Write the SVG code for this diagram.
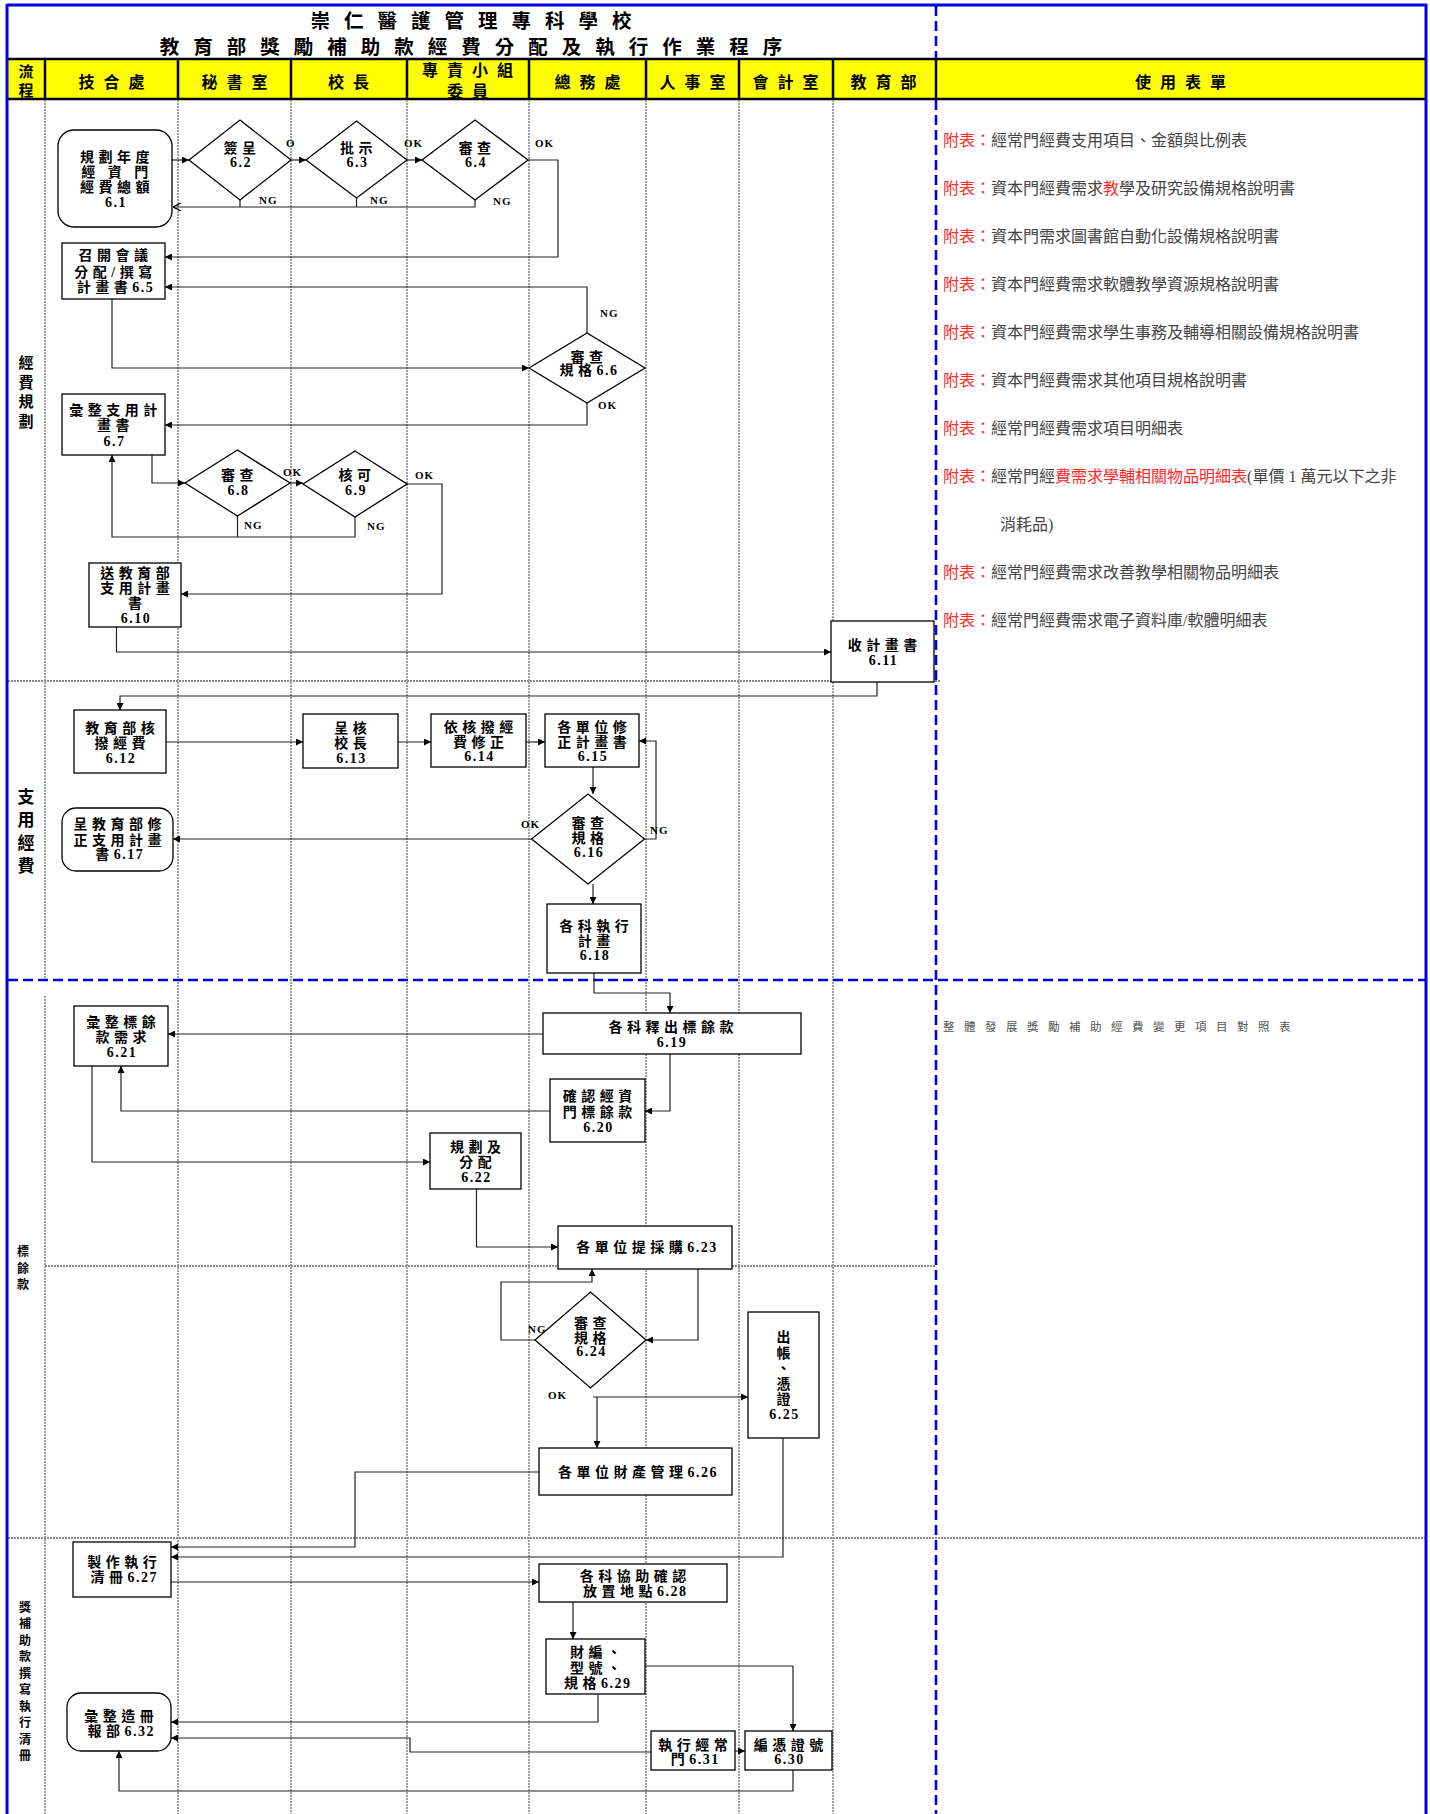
<svg xmlns="http://www.w3.org/2000/svg" width="1430" height="1814" viewBox="0 0 1430 1814">
<defs>
<marker id="ar" viewBox="0 0 10 10" refX="10" refY="5" markerWidth="8" markerHeight="7" orient="auto" markerUnits="userSpaceOnUse"><path d="M0,0L10,5L0,10z" fill="#000"/></marker>
<marker id="ao" viewBox="0 0 10 10" refX="10" refY="5" markerWidth="9" markerHeight="8" orient="auto" markerUnits="userSpaceOnUse"><path d="M0,0L10,5L0,10" fill="none" stroke="#000" stroke-width="1.6"/></marker>
</defs>
<style>
.lane{stroke:#8a8a8a;stroke-width:1.6;stroke-dasharray:2 1;fill:none}
.sec{stroke:#8a8a8a;stroke-width:1.8;stroke-dasharray:2 1;fill:none}
.bl{stroke:#0000e0;stroke-width:3;fill:none}
.bd{stroke:#0000e0;stroke-width:2.6;stroke-dasharray:10 5;fill:none}
.hb{stroke:#000;stroke-width:2.5}
.ttl{font-family:'Noto Sans CJK TC',sans-serif;font-weight:bold;font-size:19.5px;letter-spacing:14px;text-anchor:middle;fill:#000}
.h{font-family:'Noto Sans CJK TC',sans-serif;font-weight:bold;font-size:16px;letter-spacing:9px;text-anchor:middle;fill:#000}
.box{fill:#fff;stroke:#000;stroke-width:1.3}
.t{font-family:'Liberation Serif','Noto Sans CJK TC',serif;font-weight:bold;font-size:14px;letter-spacing:4.5px;text-anchor:middle;fill:#000}
.d{letter-spacing:1.5px}
.c path{fill:none;stroke:#222;stroke-width:1.2}
.lb{font-family:'Liberation Serif',serif;font-weight:bold;font-size:11px;letter-spacing:1px;fill:#000}
.s{font-family:'Noto Sans CJK TC',sans-serif;font-weight:bold;text-anchor:middle;fill:#000}
.r{font-family:'Liberation Serif','Noto Sans CJK TC',serif;font-size:16px;fill:#444}
.red{fill:#ff2a2a}
.sm{font-family:'Noto Sans CJK TC',sans-serif;font-size:11.5px;letter-spacing:9.5px;fill:#555}
</style>
<rect x="0" y="0" width="1430" height="1814" fill="#fff"/>

<g id="header">
<rect x="8" y="59" width="1418" height="40" fill="#ffff00"/>
<line class="hb" x1="7" y1="59" x2="1427" y2="59"/>
<line class="hb" x1="7" y1="99" x2="1427" y2="99"/>
<line class="hb" x1="45" y1="59" x2="45" y2="99"/>
<line class="hb" x1="178" y1="59" x2="178" y2="99"/>
<line class="hb" x1="291" y1="59" x2="291" y2="99"/>
<line class="hb" x1="407" y1="59" x2="407" y2="99"/>
<line class="hb" x1="529" y1="59" x2="529" y2="99"/>
<line class="hb" x1="646" y1="59" x2="646" y2="99"/>
<line class="hb" x1="739" y1="59" x2="739" y2="99"/>
<line class="hb" x1="833" y1="59" x2="833" y2="99"/>
<line class="hb" x1="936" y1="59" x2="936" y2="99"/>
<text class="s" x="26" y="77" font-size="15">流</text>
<text class="s" x="26" y="96" font-size="15">程</text>
<text class="h" x="116" y="88">技合處</text>
<text class="h" x="239" y="88">秘書室</text>
<text class="h" x="353" y="88">校長</text>
<text class="h" x="472" y="76" font-size="13.5" letter-spacing="10">專責小組</text>
<text class="h" x="472" y="97" font-size="13.5" letter-spacing="10">委員</text>
<text class="h" x="592" y="88">總務處</text>
<text class="h" x="697" y="88">人事室</text>
<text class="h" x="790" y="88">會計室</text>
<text class="h" x="888" y="88">教育部</text>
<text class="h" x="1185" y="88">使用表單</text>
<text class="ttl" x="478" y="28">崇仁醫護管理專科學校</text>
<text class="ttl" x="478" y="54">教育部獎勵補助款經費分配及執行作業程序</text>
</g>

<g id="lanes">
<line class="lane" x1="45" y1="100" x2="45" y2="980"/>
<line class="lane" x1="45" y1="996" x2="45" y2="1814"/>
<line class="lane" x1="178" y1="100" x2="178" y2="1814"/>
<line class="lane" x1="291" y1="100" x2="291" y2="1814"/>
<line class="lane" x1="407" y1="100" x2="407" y2="1814"/>
<line class="lane" x1="529" y1="100" x2="529" y2="1814"/>
<line class="lane" x1="646" y1="100" x2="646" y2="1814"/>
<line class="lane" x1="739" y1="100" x2="739" y2="1814"/>
<line class="lane" x1="833" y1="100" x2="833" y2="1814"/>
<line class="sec" x1="8" y1="681" x2="940" y2="681"/>
<line class="sec" x1="45" y1="1266" x2="936" y2="1266" stroke="#aaa"/>
<line class="sec" x1="8" y1="1538" x2="1426" y2="1538"/>
<text class="s" x="26" y="368" font-size="15">經</text>
<text class="s" x="26" y="388" font-size="15">費</text>
<text class="s" x="26" y="407" font-size="15">規</text>
<text class="s" x="26" y="427" font-size="15">劃</text>
<text class="s" x="26" y="803" font-size="17">支</text>
<text class="s" x="26" y="826" font-size="17">用</text>
<text class="s" x="26" y="849" font-size="17">經</text>
<text class="s" x="26" y="872" font-size="17">費</text>
<text class="s" x="23" y="1256" font-size="12">標</text>
<text class="s" x="23" y="1273" font-size="12">餘</text>
<text class="s" x="23" y="1289" font-size="12">款</text>
<text class="s" x="25" y="1612" font-size="12">獎</text>
<text class="s" x="25" y="1628" font-size="12">補</text>
<text class="s" x="25" y="1645" font-size="12">助</text>
<text class="s" x="25" y="1661" font-size="12">款</text>
<text class="s" x="25" y="1678" font-size="12">撰</text>
<text class="s" x="25" y="1694" font-size="12">寫</text>
<text class="s" x="25" y="1711" font-size="12">執</text>
<text class="s" x="25" y="1727" font-size="12">行</text>
<text class="s" x="25" y="1744" font-size="12">清</text>
<text class="s" x="25" y="1760" font-size="12">冊</text>
</g>

<g id="forms">
<text class="r" x="943" y="146"><tspan class="red">附表：</tspan>經常門經費支用項目、金額與比例表</text>
<text class="r" x="943" y="194"><tspan class="red">附表：</tspan>資本門經費需求<tspan class="red">教</tspan>學及研究設備規格說明書</text>
<text class="r" x="943" y="242"><tspan class="red">附表：</tspan>資本門需求圖書館自動化設備規格說明書</text>
<text class="r" x="943" y="290"><tspan class="red">附表：</tspan>資本門經費需求軟體教學資源規格說明書</text>
<text class="r" x="943" y="338"><tspan class="red">附表：</tspan>資本門經費需求學生事務及輔導相關設備規格說明書</text>
<text class="r" x="943" y="386"><tspan class="red">附表：</tspan>資本門經費需求其他項目規格說明書</text>
<text class="r" x="943" y="434"><tspan class="red">附表：</tspan>經常門經費需求項目明細表</text>
<text class="r" x="943" y="482"><tspan class="red">附表：</tspan>經常門經<tspan class="red">費需求學輔相關物品明細表</tspan>(單價 1 萬元以下之非</text>
<text class="r" x="1000" y="530">消耗品)</text>
<text class="r" x="943" y="578"><tspan class="red">附表：</tspan>經常門經費需求改善教學相關物品明細表</text>
<text class="r" x="943" y="626"><tspan class="red">附表：</tspan>經常門經費需求電子資料庫/軟體明細表</text>
<text class="sm" x="943" y="1031">整體發展獎勵補助經費變更項目對照表</text>
</g>

<g id="border">
<line class="bl" x1="7" y1="5" x2="1427" y2="5"/>
<line class="bl" x1="7" y1="4" x2="7" y2="1814"/>
<line class="bl" x1="1426" y1="4" x2="1426" y2="1814"/>
<line class="bd" x1="936" y1="6" x2="936" y2="58"/>
<line class="bd" x1="936" y1="100" x2="936" y2="1814"/>
<line class="bd" x1="8" y1="980" x2="1425" y2="980"/>
</g>

<g id="connectors" class="c">
<path d="M172,160H189" marker-end="url(#ar)"/>
<path d="M291,160H306" marker-end="url(#ar)"/>
<path d="M407,160H422" marker-end="url(#ar)"/>
<path d="M528,160H558V257H165" marker-end="url(#ar)"/>
<path d="M240,200V207"/>
<path d="M356.5,198V207"/>
<path d="M475,200V207H173" marker-end="url(#ao)"/>
<path d="M587,333V287H165" marker-end="url(#ar)"/>
<path d="M112,299V368H529" marker-end="url(#ar)"/>
<path d="M587,403V425H165" marker-end="url(#ar)"/>
<path d="M152,455V483H185" marker-end="url(#ar)"/>
<path d="M290,483H303" marker-end="url(#ar)"/>
<path d="M407,484H442V594H181" marker-end="url(#ar)"/>
<path d="M237.5,516V537"/>
<path d="M355,517V537H112V455" marker-end="url(#ar)"/>
<path d="M116.5,627V652H831" marker-end="url(#ar)"/>
<path d="M877,682V696H120V710" marker-end="url(#ar)"/>
<path d="M166,742H303" marker-end="url(#ar)"/>
<path d="M398,742H431" marker-end="url(#ar)"/>
<path d="M526,742H545" marker-end="url(#ar)"/>
<path d="M593,767V794" marker-end="url(#ar)"/>
<path d="M644.5,839H656V741H639" marker-end="url(#ar)"/>
<path d="M531.5,839H173" marker-end="url(#ar)"/>
<path d="M593,884V904" marker-end="url(#ar)"/>
<path d="M594,973V993H670V1013" marker-end="url(#ar)"/>
<path d="M543,1034H168" marker-end="url(#ar)"/>
<path d="M670,1054V1111H645" marker-end="url(#ar)"/>
<path d="M550,1111H121V1066" marker-end="url(#ar)"/>
<path d="M92,1066V1162H430" marker-end="url(#ar)"/>
<path d="M476.5,1189V1247H558" marker-end="url(#ar)"/>
<path d="M698,1269V1340H646" marker-end="url(#ar)"/>
<path d="M535,1340H501V1282H592V1269" marker-end="url(#ar)"/>
<path d="M597,1397V1448" marker-end="url(#ar)"/>
<path d="M593,1397H748" marker-end="url(#ar)"/>
<path d="M539,1472H355V1547H171" marker-end="url(#ar)"/>
<path d="M783,1438V1557H171" marker-end="url(#ar)"/>
<path d="M171,1582H539" marker-end="url(#ar)"/>
<path d="M573,1602V1639" marker-end="url(#ar)"/>
<path d="M645,1666H793V1731" marker-end="url(#ar)"/>
<path d="M735,1751H745" marker-end="url(#ar)"/>
<path d="M598,1694V1722H171" marker-end="url(#ar)"/>
<path d="M651,1752H410V1738H171" marker-end="url(#ar)"/>
<path d="M793,1770V1791H119V1751" marker-end="url(#ar)"/>
</g>

<g id="labels">
<text class="lb" x="286" y="147">O</text>
<text class="lb" x="404" y="147">OK</text>
<text class="lb" x="535" y="147">OK</text>
<text class="lb" x="259" y="204">NG</text>
<text class="lb" x="370" y="204">NG</text>
<text class="lb" x="493" y="205">NG</text>
<text class="lb" x="600" y="317">NG</text>
<text class="lb" x="598" y="409">OK</text>
<text class="lb" x="283" y="476">OK</text>
<text class="lb" x="415" y="479">OK</text>
<text class="lb" x="244" y="529">NG</text>
<text class="lb" x="367" y="530">NG</text>
<text class="lb" x="521" y="828">OK</text>
<text class="lb" x="650" y="834">NG</text>
<text class="lb" x="528" y="1333">NG</text>
<text class="lb" x="548" y="1399">OK</text>
</g>

<g id="n6_1"><rect class="box" x="58" y="130" width="114" height="97" rx="16"/>
<text class="t" x="117" y="162">規劃年度</text><text class="t" x="117" y="177">經 資 門</text><text class="t" x="117" y="192">經費總額</text><text class="t d" x="116" y="207">6.1</text></g>
<g id="n6_2"><polygon class="box" points="189,160 240,120 291,160 240,200"/>
<text class="t" x="242" y="153">簽呈</text><text class="t d" x="241" y="167">6.2</text></g>
<g id="n6_3"><polygon class="box" points="306,160 356.5,121 407,160 356.5,198"/>
<text class="t" x="358.5" y="153">批示</text><text class="t d" x="357.5" y="167">6.3</text></g>
<g id="n6_4"><polygon class="box" points="422,160 475,120 528,160 475,200"/>
<text class="t" x="477" y="153">審查</text><text class="t d" x="476" y="167">6.4</text></g>
<g id="n6_5"><rect class="box" x="62" y="243" width="103" height="56"/>
<text class="t" x="115.5" y="260">召開會議</text><text class="t" x="115.5" y="277">分配/撰寫</text><text class="t" x="115.5" y="292">計畫書<tspan class="d">6.5</tspan></text></g>
<g id="n6_6"><polygon class="box" points="529,368 587,333 645,368 587,403"/>
<text class="t" x="589" y="362">審查</text><text class="t" x="589" y="375">規格<tspan class="d">6.6</tspan></text></g>
<g id="n6_7"><rect class="box" x="62" y="394" width="103" height="61"/>
<text class="t" x="115.5" y="415">彙整支用計</text><text class="t" x="115.5" y="430">畫書</text><text class="t d" x="114.5" y="446">6.7</text></g>
<g id="n6_8"><polygon class="box" points="185,483 237.5,450 290,483 237.5,516"/>
<text class="t" x="239.5" y="480">審查</text><text class="t d" x="238.5" y="495">6.8</text></g>
<g id="n6_9"><polygon class="box" points="303,484 355,451 407,484 355,517"/>
<text class="t" x="357" y="480">核可</text><text class="t d" x="356" y="495">6.9</text></g>
<g id="n6_10"><rect class="box" x="89" y="563" width="92" height="64"/>
<text class="t" x="137.25" y="578">送教育部</text><text class="t" x="137.25" y="593">支用計畫</text><text class="t" x="137.25" y="608">書</text><text class="t d" x="136" y="623">6.10</text></g>
<g id="n6_11"><rect class="box" x="831" y="621" width="103" height="61"/>
<text class="t" x="884.75" y="650">收計畫書</text><text class="t d" x="883.5" y="665">6.11</text></g>
<g id="n6_12"><rect class="box" x="74" y="710" width="92" height="63"/>
<text class="t" x="122.25" y="733">教育部核</text><text class="t" x="122.25" y="748">撥經費</text><text class="t d" x="121" y="763">6.12</text></g>
<g id="n6_13"><rect class="box" x="303" y="714" width="95" height="54"/>
<text class="t" x="352.75" y="733">呈核</text><text class="t" x="352.75" y="748">校長</text><text class="t d" x="351.5" y="763">6.13</text></g>
<g id="n6_14"><rect class="box" x="431" y="714" width="95" height="53"/>
<text class="t" x="480.75" y="732">依核撥經</text><text class="t" x="480.75" y="747">費修正</text><text class="t d" x="479.5" y="761">6.14</text></g>
<g id="n6_15"><rect class="box" x="545" y="714" width="94" height="53"/>
<text class="t" x="594.25" y="732">各單位修</text><text class="t" x="594.25" y="747">正計畫書</text><text class="t d" x="593" y="761">6.15</text></g>
<g id="n6_16"><polygon class="box" points="531.5,839 588,794 644.5,839 588,884"/>
<text class="t" x="590" y="828">審查</text><text class="t" x="590" y="843">規格</text><text class="t d" x="589" y="857">6.16</text></g>
<g id="n6_17"><rect class="box" x="62" y="808" width="111" height="63" rx="14"/>
<text class="t" x="119.75" y="829">呈教育部修</text><text class="t" x="119.75" y="845">正支用計畫</text><text class="t" x="119.75" y="859">書<tspan class="d">6.17</tspan></text></g>
<g id="n6_18"><rect class="box" x="547" y="904" width="94" height="69"/>
<text class="t" x="596.25" y="931">各科執行</text><text class="t" x="596.25" y="946">計畫</text><text class="t d" x="595" y="960">6.18</text></g>
<g id="n6_19"><rect class="box" x="543" y="1013" width="258" height="41"/>
<text class="t" x="673.25" y="1032">各科釋出標餘款</text><text class="t d" x="672" y="1047">6.19</text></g>
<g id="n6_20"><rect class="box" x="550" y="1079" width="95" height="63"/>
<text class="t" x="599.75" y="1101">確認經資</text><text class="t" x="599.75" y="1117">門標餘款</text><text class="t d" x="598.5" y="1132">6.20</text></g>
<g id="n6_21"><rect class="box" x="74" y="1006" width="94" height="60"/>
<text class="t" x="123.25" y="1027">彙整標餘</text><text class="t" x="123.25" y="1042">款需求</text><text class="t d" x="122" y="1057">6.21</text></g>
<g id="n6_22"><rect class="box" x="430" y="1133" width="91" height="56"/>
<text class="t" x="477.75" y="1152">規劃及</text><text class="t" x="477.75" y="1167">分配</text><text class="t d" x="476.5" y="1182">6.22</text></g>
<g id="n6_23"><rect class="box" x="558" y="1226" width="174" height="43"/>
<text class="t" x="647" y="1252">各單位提採購<tspan class="d">6.23</tspan></text></g>
<g id="n6_24"><polygon class="box" points="535,1340 590.5,1292 646,1340 590.5,1388"/>
<text class="t" x="592.5" y="1328">審查</text><text class="t" x="592.5" y="1343">規格</text><text class="t d" x="591.5" y="1356">6.24</text></g>
<g id="n6_25"><rect class="box" x="748" y="1312" width="71" height="126"/>
<text class="t" x="785.75" y="1342">出</text><text class="t" x="785.75" y="1358">帳</text><text class="t" x="785.75" y="1373">、</text><text class="t" x="785.75" y="1389">憑</text><text class="t" x="785.75" y="1404">證</text><text class="t d" x="784.5" y="1419">6.25</text></g>
<g id="n6_26"><rect class="box" x="539" y="1448" width="193" height="47"/>
<text class="t" x="638" y="1477" letter-spacing="5.5">各單位財產管理<tspan class="d">6.26</tspan></text></g>
<g id="n6_27"><rect class="box" x="73" y="1542" width="98" height="55"/>
<text class="t" x="124.25" y="1567">製作執行</text><text class="t" x="124.25" y="1582">清冊<tspan class="d">6.27</tspan></text></g>
<g id="n6_28"><rect class="box" x="539" y="1564" width="188" height="38"/>
<text class="t" x="635.25" y="1581">各科協助確認</text><text class="t" x="635.25" y="1596">放置地點<tspan class="d">6.28</tspan></text></g>
<g id="n6_29"><rect class="box" x="546" y="1639" width="99" height="55"/>
<text class="t" x="597.75" y="1657">財編、</text><text class="t" x="597.75" y="1673">型號、</text><text class="t" x="597.75" y="1688">規格<tspan class="d">6.29</tspan></text></g>
<g id="n6_30"><rect class="box" x="745" y="1731" width="87" height="39"/>
<text class="t" x="790.75" y="1750">編憑證號</text><text class="t d" x="789.5" y="1764">6.30</text></g>
<g id="n6_31"><rect class="box" x="651" y="1731" width="84" height="39"/>
<text class="t" x="695.25" y="1750">執行經常</text><text class="t" x="695.25" y="1764">門<tspan class="d">6.31</tspan></text></g>
<g id="n6_32"><rect class="box" x="67" y="1693" width="104" height="58" rx="14"/>
<text class="t" x="121.25" y="1721">彙整造冊</text><text class="t" x="121.25" y="1736">報部<tspan class="d">6.32</tspan></text></g>
</svg>
